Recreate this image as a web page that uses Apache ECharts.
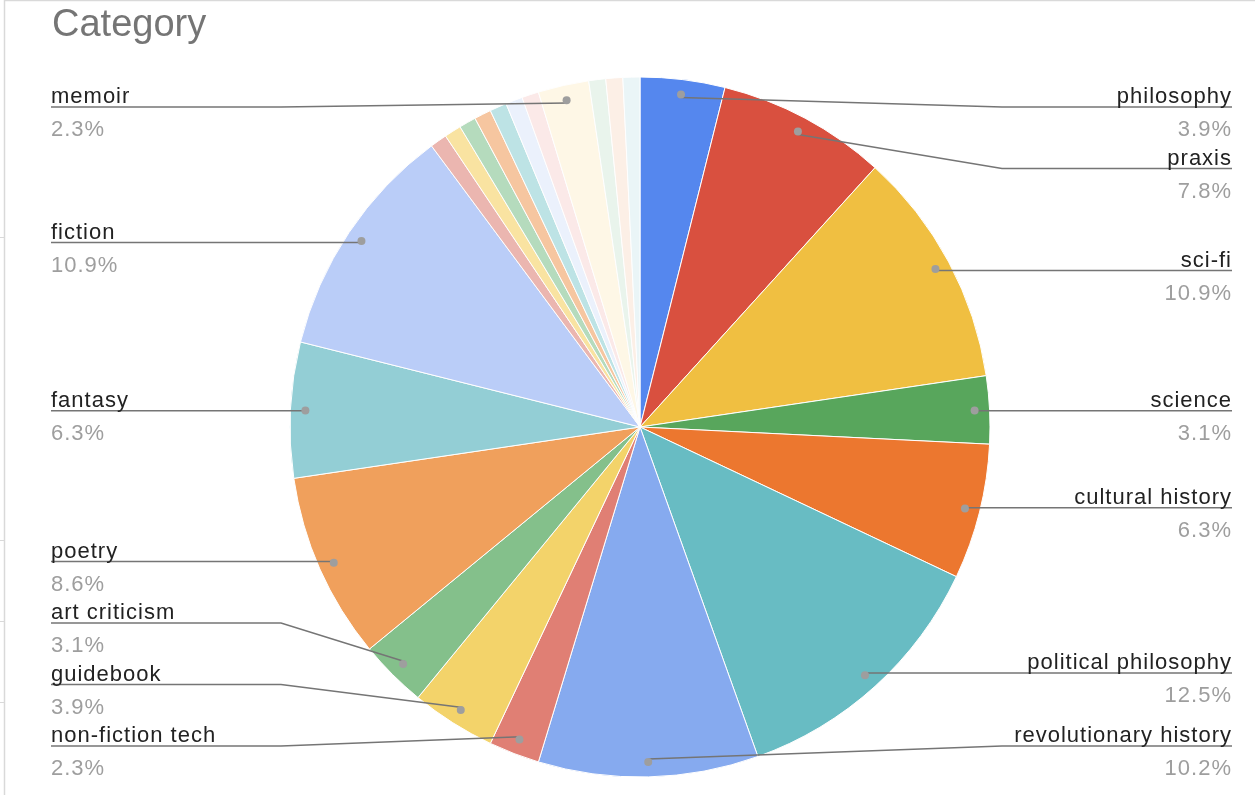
<!DOCTYPE html>
<html>
<head>
<meta charset="utf-8">
<script src="https://cdn.jsdelivr.net/npm/echarts@6/dist/echarts.min.js"></script>
<style>
  html, body { margin: 0; padding: 0; background: #ffffff; }
  #chart { width: 1255px; height: 795px; }
</style>
</head>
<body>
<div id="chart"></div>
<script>
// ---------------- data ----------------
const chartTitle = 'Category';
const categories = [
  'philosophy', 'praxis', 'sci-fi', 'science', 'cultural history',
  'political philosophy', 'revolutionary history', 'non-fiction tech',
  'guidebook', 'art criticism', 'poetry', 'fantasy', 'fiction',
  'other 1', 'other 2', 'other 3', 'other 4', 'other 5', 'other 6', 'other 7',
  'memoir', 'other 8', 'other 9', 'other 10'
];
const counts = [
  5, 10, 14, 4, 8,
  16, 13, 3,
  5, 4, 11, 8, 14,
  1, 1, 1, 1, 1, 1, 1,
  3, 1, 1, 1
];
// ---------------- style ----------------
const palette = [
  '#5587ee', '#d9503f', '#f0bf41', '#58a65c', '#ec772f',
  '#68bcc3', '#86aaef', '#e07f74', '#f3d36a', '#84c08b',
  '#f0a05c', '#93ced5', '#bacdf8',
  '#ebb6b0', '#f9e3a1', '#b5dbbd', '#f6c6a0', '#bde3e5', '#ebf1fc', '#fbe9e8',
  '#fef7e6', '#e9f4ec', '#fcefe6', '#eaf5f7'
];
const FONT = '"Liberation Sans", Arial, Helvetica, sans-serif';
const LABEL_SIZE = 22;
const W = 1255, H = 795;
const CX = 640, CY = 427, R = 350, DOT_R = 332;
const SERIES_LEFT = 28, EDGE = 23, RUN = 230;
const LABEL_TOP = 107, LABEL_BOTTOM = 746, LABEL_GAP = 61.5;
const labelMinShare = 0.02;

// slight letter spacing for the slice labels (as in the reference rendering)
(function () {
  const proto = CanvasRenderingContext2D.prototype;
  const orig = proto.fillText;
  proto.fillText = function (t, x, y, mw) {
    if ('letterSpacing' in this) {
      this.letterSpacing = this.font.indexOf(LABEL_SIZE + 'px') >= 0 ? '1px' : '0px';
    }
    return mw === undefined ? orig.call(this, t, x, y) : orig.call(this, t, x, y, mw);
  };
})();

const total = counts.reduce((a, b) => a + b, 0);
const pct = v => (v / total * 100).toFixed(1) + '%';
const isLabeled = v => v / total >= labelMinShare;

const sliceData = categories.map((name, i) => ({
  name, value: counts[i], itemStyle: { color: palette[i] }
}));
const labelData = categories.map((name, i) => {
  const item = { name, value: counts[i] };
  if (!isLabeled(counts[i])) {
    item.label = { show: false };
    item.labelLine = { show: false };
  }
  return item;
});
const dotData = categories.map((name, i) => ({
  name, value: counts[i], label: { show: isLabeled(counts[i]) }
}));

// label anchors reported by ECharts (first pass) and resolved positions (second pass)
const natural = {};
let resolved = null;

function resolveLabels() {
  const out = {};
  ['left', 'right'].forEach(side => {
    const items = Object.keys(natural)
      .map(k => ({ idx: +k, y: natural[k].y, side: natural[k].side }))
      .filter(it => it.side === side)
      .sort((a, b) => a.y - b.y);
    const ys = items.map(it => it.y);
    for (let i = 0; i < ys.length; i++) {
      ys[i] = Math.max(ys[i], LABEL_TOP, i > 0 ? ys[i - 1] + LABEL_GAP : -Infinity);
    }
    for (let i = ys.length - 1; i >= 0; i--) {
      ys[i] = Math.min(ys[i], LABEL_BOTTOM, i < ys.length - 1 ? ys[i + 1] - LABEL_GAP : Infinity);
    }
    items.forEach((it, i) => { out[it.idx] = ys[i]; });
  });
  return out;
}

const chart = echarts.init(document.getElementById('chart'), null, { renderer: 'canvas' });

const common = {
  type: 'pie',
  left: SERIES_LEFT, right: 0, top: 0, bottom: 0,
  center: [CX - SERIES_LEFT, CY],
  radius: [0, R],
  startAngle: 90,
  clockwise: true,
  animation: false,
  emphasis: { disabled: true }
};
const clear = { color: 'rgba(0,0,0,0)', borderWidth: 0 };

const option = {
  backgroundColor: '#ffffff',
  animation: false,
  title: {
    text: chartTitle,
    left: 52, top: 7, padding: 0,
    textStyle: { fontFamily: FONT, fontSize: 38, fontWeight: 'normal', color: '#757575' }
  },
  graphic: [
    { type: 'line', shape: { x1: 4.5, y1: 0, x2: 4.5, y2: H }, style: { stroke: '#d9d9d9', lineWidth: 1.5 }, silent: true },
    { type: 'line', shape: { x1: 4.5, y1: 0.5, x2: W, y2: 0.5 }, style: { stroke: '#d9d9d9', lineWidth: 1.5 }, silent: true },
    { type: 'line', shape: { x1: 0, y1: 237.5, x2: 5, y2: 237.5 }, style: { stroke: '#d9d9d9', lineWidth: 1 }, silent: true },
    { type: 'line', shape: { x1: 0, y1: 540.5, x2: 5, y2: 540.5 }, style: { stroke: '#d9d9d9', lineWidth: 1 }, silent: true },
    { type: 'line', shape: { x1: 0, y1: 621.5, x2: 5, y2: 621.5 }, style: { stroke: '#d9d9d9', lineWidth: 1 }, silent: true },
    { type: 'line', shape: { x1: 0, y1: 702.5, x2: 5, y2: 702.5 }, style: { stroke: '#d9d9d9', lineWidth: 1 }, silent: true }
  ],
  series: [
    // coloured slices
    Object.assign({}, common, {
      name: 'Category',
      z: 1,
      itemStyle: { borderColor: '#ffffff', borderWidth: 1 },
      label: { show: false },
      labelLine: { show: false },
      data: sliceData
    }),
    // outer labels with leader lines (drawn above the slices)
    Object.assign({}, common, {
      name: 'labels',
      z: 3,
      silent: true,
      itemStyle: clear,
      avoidLabelOverlap: false,
      label: {
        show: true,
        position: 'outer',
        alignTo: 'edge',
        edgeDistance: EDGE,
        fontFamily: FONT,
        formatter: p => '{n|' + p.name + '}\n{p|' + pct(p.value) + '}',
        rich: {
          n: { fontFamily: FONT, fontSize: LABEL_SIZE, color: '#222222', lineHeight: 46 },
          p: { fontFamily: FONT, fontSize: LABEL_SIZE, color: '#9e9e9e', lineHeight: 20 }
        }
      },
      labelLine: {
        show: true,
        length: -(R - DOT_R),
        length2: 0,
        smooth: false,
        lineStyle: { color: '#757575', width: 1.5 }
      },
      labelLayout: function (p) {
        const pts = p.labelLinePoints;
        if (!pts) return {};
        const r = p.labelRect;
        const isLeft = r.x + r.width / 2 < CX;
        const anchorY = pts[pts.length - 1][1];
        if (!resolved) natural[p.dataIndex] = { y: anchorY, side: isLeft ? 'left' : 'right' };
        const lineY = resolved && resolved[p.dataIndex] != null ? resolved[p.dataIndex] : anchorY;
        const dx = pts[0][0] - CX, dy = pts[0][1] - CY;
        const len = Math.sqrt(dx * dx + dy * dy) || 1;
        const dot = [CX + dx / len * DOT_R, CY + dy / len * DOT_R];
        const endX = isLeft ? r.x : r.x + r.width;
        const elbowX = isLeft ? SERIES_LEFT + EDGE + RUN : W - EDGE - RUN;
        return {
          y: lineY,
          labelLinePoints: [dot, [elbowX, lineY], [endX, lineY]]
        };
      },
      data: labelData
    }),
    // dots at the start of each leader line
    Object.assign({}, common, {
      name: 'dots',
      z: 4,
      radius: [2 * DOT_R - R, R],
      silent: true,
      itemStyle: clear,
      label: {
        show: true,
        position: 'inside',
        formatter: '{d| }',
        rich: { d: { width: 8, height: 8, borderRadius: 4, backgroundColor: '#9e9e9e', fontSize: 1, lineHeight: 8 } }
      },
      labelLine: { show: false },
      data: dotData
    })
  ]
};

chart.setOption(option);
resolved = resolveLabels();
chart.setOption(option, true);
</script>
</body>
</html>
